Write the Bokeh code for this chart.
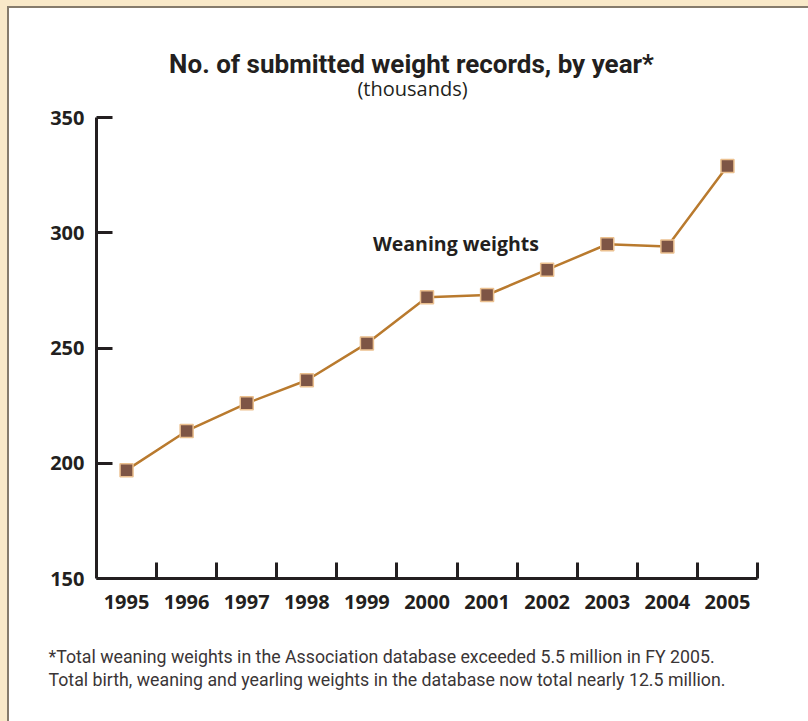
from bokeh.plotting import figure
from bokeh.layouts import column
from bokeh.models import Range1d, FixedTicker, Label, Title
from bokeh.embed import file_html
from bokeh.resources import INLINE

# Weaning weight records submitted per year (thousands)
years = ["1995", "1996", "1997", "1998", "1999", "2000",
         "2001", "2002", "2003", "2004", "2005"]
records = [197, 214, 226, 236, 252, 272, 273, 284, 295, 294, 329]
y_ticks = [150, 200, 250, 300, 350]

title_text = "No. of submitted weight records, by year*"
subtitle_text = "(thousands)"
series_label = "Weaning weights"
footnote_lines = [
    "*Total weaning weights in the Association database exceeded 5.5 million in FY 2005.",
    "Total birth, weaning and yearling weights in the database now total nearly 12.5 million.",
]

BEIGE = "#f9e9c9"
EDGE = "#857b6c"
INK = "#231f20"
LINE = "#b97a2e"
MARK = "#7e5545"
MARK_EDGE = "#ebc08f"

n = len(years)
centers = [i + 0.5 for i in range(n)]

# canvas geometry: plotting frame runs from the canvas top down to the x axis,
# the y axis itself is bounded to 150..350 so the headings can sit above it;
# the canvas is a little taller than the page so the bottom border is fixed
CANVAS_W, CANVAS_H = 801, 740
FRAME_L, FRAME_R, FRAME_B = 87, 748, 570
AXIS_TOP = 109                     # pixel row of the 350 tick
y_min, y_max = y_ticks[0], y_ticks[-1]
y_top = y_min + (y_max - y_min) * FRAME_B / (FRAME_B - AXIS_TOP)

def at_x(px):
    return (px - FRAME_L) / (FRAME_R - FRAME_L) * n

def at_y(px):
    return y_min + (FRAME_B - px) / (FRAME_B - AXIS_TOP) * (y_max - y_min)

p = figure(width=CANVAS_W, height=CANVAS_H, output_backend="svg",
           toolbar_location=None,
           x_range=Range1d(0, n), y_range=Range1d(y_min, y_top),
           min_border_left=FRAME_L, min_border_right=CANVAS_W - FRAME_R,
           min_border_top=0, min_border_bottom=CANVAS_H - FRAME_B,
           styles={"border-left": f"2px solid {EDGE}", "border-top": f"2px solid {EDGE}",
                   "background-color": "white"})
p.background_fill_color = None
p.border_fill_color = None
p.outline_line_color = None
p.grid.visible = False

# x axis: year labels at category centres, tick marks on category edges
xa = p.xaxis[0]
xa.ticker = FixedTicker(ticks=centers, minor_ticks=list(range(1, n + 1)))
xa.major_label_overrides = {c: y for c, y in zip(centers, years)}
xa.major_tick_in = 0
xa.major_tick_out = 0
xa.minor_tick_in = 16
xa.minor_tick_out = 0
xa.minor_tick_line_color = INK
xa.minor_tick_line_width = 3

ya = p.yaxis[0]
ya.ticker = FixedTicker(ticks=y_ticks)
ya.bounds = (y_min, y_max)
ya.major_tick_in = 16
ya.major_tick_out = 0
ya.minor_tick_in = 0
ya.minor_tick_out = 0
ya.major_label_standoff = 12

for ax in (xa, ya):
    ax.axis_line_color = INK
    ax.axis_line_width = 3
    ax.major_tick_line_color = INK
    ax.major_tick_line_width = 3
    ax.major_label_text_font = "Open Sans"
    ax.major_label_text_font_style = "bold"
    ax.major_label_text_font_size = "20px"
    ax.major_label_text_color = INK
xa.major_label_standoff = 16

p.line(centers, records, line_color=LINE, line_width=2.5)
p.scatter(centers, records, marker="square", size=13, fill_color=MARK,
          line_color=MARK_EDGE, line_width=1.5)

p.add_layout(Label(x=4.6, y=295.3, text=series_label, text_align="left",
                   text_baseline="middle", text_font="Open Sans", text_font_style="bold",
                   text_font_size="19.5px", text_color=INK))

# headings
p.add_layout(Label(x=at_x(402), y=at_y(55), text=title_text, text_align="center",
                   text_baseline="middle", text_font="Roboto", text_font_style="bold",
                   text_font_size="26px", text_color=INK))
p.add_layout(Label(x=at_x(403), y=at_y(80), text=subtitle_text, text_align="center",
                   text_baseline="middle", text_font="Open Sans",
                   text_font_size="20px", text_color=INK))

# footnote below the axis
p.add_layout(Title(text="\n".join(footnote_lines), align="left", offset=-48,
                   text_font="Roboto", text_font_size="17.75px", text_font_style="normal",
                   text_line_height=1.16, text_color="#3a3536", standoff=68), "below")

page = column(p, styles={"background-color": BEIGE, "padding-left": "7px",
                         "padding-top": "6px"})

open("out.html", "w").write(file_html(page, INLINE))
